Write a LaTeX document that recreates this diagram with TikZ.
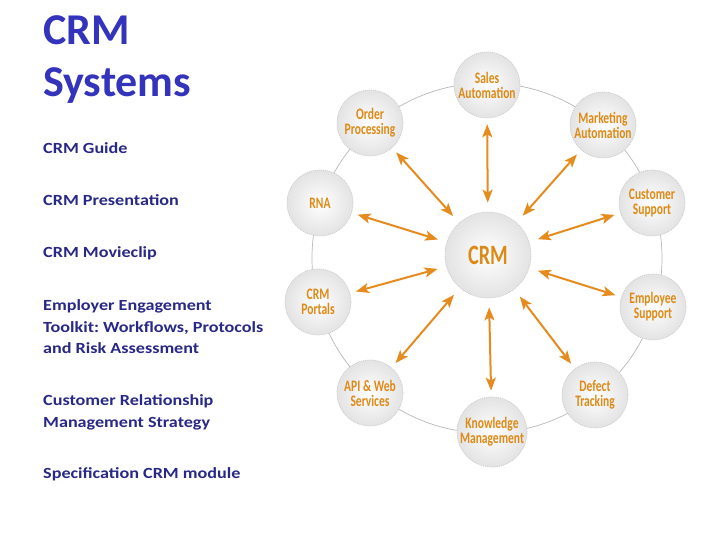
\documentclass[tikz,border=0pt]{standalone}
\usepackage{fontspec}
\setmainfont{Carlito}
\newfontfamily\listfont[FakeStretch=1.17]{Carlito}
\newfontfamily\diagfont[FakeStretch=0.72]{Carlito}
\newfontfamily\crmfont[FakeStretch=0.72]{Carlito}
\usetikzlibrary{arrows.meta}
\frenchspacing
\definecolor{titleblue}{RGB}{51,51,187}
\definecolor{listblue}{RGB}{40,40,135}
\definecolor{orangeT}{RGB}{222,138,22}
\definecolor{orangeA}{RGB}{230,140,30}
\tikzset{
  titletext/.style={anchor=base west, inner sep=0pt, text=titleblue, font=\fontsize{44}{52}\selectfont\bfseries},
  listtext/.style={anchor=base west, inner sep=0pt, text=listblue, font=\listfont\fontsize{15.5}{21}\selectfont\bfseries},
  sat/.style={circle, minimum size=66pt, inner sep=0pt, shading=radial, inner color=white, outer color=gray!22,
    draw=gray!40, dash pattern=on 1pt off 1pt, line width=0.7pt, text=orangeT, align=center,
    font=\diagfont\bfseries\fontsize{16}{15}\selectfont},
  hub/.style={sat, minimum size=86pt, font=\crmfont\bfseries\fontsize{28}{30}\selectfont},
  ring/.style={draw=gray!55, line width=0.7pt},
  arr/.style={draw=orangeA, line width=2pt, {Stealth[length=13pt,width=10pt,inset=3pt]}-{Stealth[length=13pt,width=10pt,inset=3pt]},
    shorten <=9pt, shorten >=6pt}
}
\begin{document}
\begin{tikzpicture}[x=1pt,y=-1pt]
\useasboundingbox[fill=white] (0,0) rectangle (720,540);
% left text
\node[titletext] (t1) at (43,45) {CRM};
\node[titletext] (t2) at (43,97) {Systems};
\node[listtext] (l1) at (43,154) {CRM Guide};
\node[listtext] (l2) at (43,206) {CRM Presentation};
\node[listtext] (l3) at (43,258) {CRM Movieclip};
\node[listtext] (l4a) at (43,310) {Employer Engagement};
\node[listtext] (l4b) at (43,332) {Toolkit: Workflows, Protocols};
\node[listtext] (l4c) at (43,353) {and Risk Assessment};
\node[listtext] (l5a) at (43,405) {Customer Relationship};
\node[listtext] (l5b) at (43,427) {Management Strategy};
\node[listtext] (l6) at (43,478) {Specification CRM module};
% ring
\coordinate (rc) at (487,258);
\draw[ring] (rc) circle[radius=175pt];
% nodes
\node[hub] (crm) at (488,255) {CRM};
\node[sat] (sales) at (487,85) {Sales\\Automation};
\node[sat] (order) at (370,123) {Order\\Processing};
\node[sat] (mkt) at (603,125) {Marketing\\Automation};
\node[sat] (rna) at (320,203) {RNA};
\node[sat] (cust) at (652,203) {Customer\\Support};
\node[sat] (portal) at (318,302) {CRM\\Portals};
\node[sat] (emp) at (653,307) {Employee\\Support};
\node[sat] (api) at (370,393) {API \& Web\\Services};
\node[sat] (defect) at (595,395) {Defect\\Tracking};
\node[sat] (know) at (492,432) {Knowledge\\Management};
% arrows
\foreach \s in {sales,order,mkt,rna,cust,portal,emp,api,defect,know}
  \draw[arr] (crm) -- (\s);
\end{tikzpicture}
\end{document}
